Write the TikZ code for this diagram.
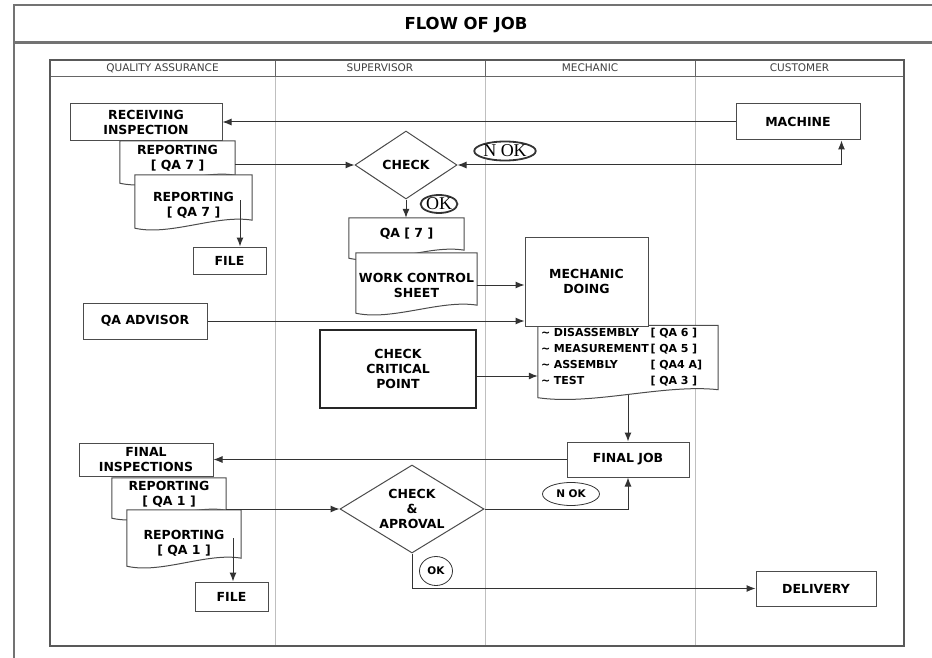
\documentclass[tikz,border=0pt]{standalone}
\usepackage{fontspec}
\setmainfont{DejaVu Sans}
\newfontfamily\okfont{Liberation Serif}
\usetikzlibrary{positioning,shapes.geometric,calc,backgrounds,arrows.meta}
\tikzset{block/.style={draw=black!70,line width=1pt,fill=white,font=\bfseries\fontsize{12.5}{15}\selectfont,align=center,inner sep=0pt},
         doc/.style={font=\bfseries\fontsize{12.5}{15}\selectfont,align=center,inner sep=0pt},
         check/.style={diamond,draw=black!70,line width=1pt,fill=white,font=\bfseries\fontsize{12.5}{15}\selectfont,align=center,inner sep=0pt},
         tag/.style={ellipse,draw=black!80,fill=white,inner sep=0pt},
         lane/.style={black!25,line width=0.7pt},
         head/.style={font=\fontsize{10.5}{12}\selectfont,text=black!75}
}
\tikzstyle{arrow} = [line width=1pt,draw=black!80,->,>={Latex[length=9pt,width=7pt]}]
\newcommand{\docshape}[2][0pt]{%
  \begin{scope}[on background layer]
  \filldraw[draw=black!70,line width=1pt,fill=white] ($(#2.north west)+(0,#1)$) -- ($(#2.north east)+(0,#1)$) -- (#2.south east)
    .. controls ($(#2.south)!0.4!(#2.south east)+(0,6pt)$) and ($(#2.south)!0.4!(#2.south west)+(0,-16pt)$) .. ($(#2.south west)+(0,-8pt)$) -- cycle;
  \end{scope}}

\begin{document}
\begin{tikzpicture}[x=1pt,y=-1pt]
\useasboundingbox (0,0) rectangle (932,658);

\begin{scope}[on background layer]
\draw[line width=1.6pt,black!55] (932,5) -- (14,5) -- (14,658);
\draw[line width=3pt,black!55] (14,43) -- (932,43);
\foreach \x in {275,485,695} {
  \draw[lane] (\x,76) -- (\x,646);
  \draw[black!60,line width=0.8pt] (\x,60) -- (\x,76);
}
\draw[line width=0.9pt,black!60] (50,76) -- (904,76);
\draw[line width=1.4pt,black!65] (50,60) rectangle (904,646);
\end{scope}

\node[font=\bfseries\fontsize{16.5}{18}\selectfont] (title) at (466,25) {FLOW OF JOB};
\node[head] (hqa) at (162.5,68) {QUALITY ASSURANCE};
\node[head] (hsup) at (380,68) {SUPERVISOR};
\node[head] (hmech) at (590,68) {MECHANIC};
\node[head] (hcust) at (799.5,68) {CUSTOMER};

\node[block,minimum width=152pt,minimum height=37pt] (recv) at (146,122) {RECEIVING\\INSPECTION};
\node[doc,minimum width=115pt,minimum height=34pt] (rep1) at (177.5,158) {REPORTING\\{[} QA 7 {]}};
\docshape{rep1}
\node[doc,minimum width=117pt,minimum height=30pt] (rep2) at (193.5,205) {REPORTING\\{[} QA 7 {]}};
\docshape[15pt]{rep2}
\node[block,minimum width=73pt,minimum height=27pt] (file1) at (229.5,260.5) {FILE};
\node[block,minimum width=124pt,minimum height=36pt] (machine) at (798,122) {MACHINE};
\node[check,aspect=1.5,minimum width=102pt,minimum height=68pt] (check) at (406,165) {CHECK};
\node[tag,line width=1.8pt,minimum width=56pt,minimum height=19pt,font=\okfont\fontsize{18}{18}\selectfont] (nok1) at (505,151) {N OK};
\node[tag,line width=1.8pt,minimum width=35pt,minimum height=18pt,font=\okfont\fontsize{18}{18}\selectfont] (ok1) at (439,204) {OK};
\node[doc,minimum width=115pt,minimum height=32pt] (qa7) at (406.5,234) {QA {[} 7 {]}};
\docshape{qa7}
\node[doc,minimum width=121pt,minimum height=40pt] (wcs) at (416.5,285) {WORK CONTROL\\SHEET};
\docshape[12pt]{wcs}
\node[block,minimum width=123pt,minimum height=89pt] (mech) at (586.5,281.5) {MECHANIC\\DOING};
\node[block,minimum width=124pt,minimum height=36pt] (qaadv) at (145,321) {QA ADVISOR};
\node[block,line width=2.2pt,draw=black!85,minimum width=156pt,minimum height=78pt] (ccp) at (398,369) {CHECK\\CRITICAL\\POINT};
\node[doc,inner xsep=3pt,text width=174pt,align=left,minimum height=63pt,font=\bfseries\fontsize{11}{16}\selectfont] (tasks) at (628,357.5)
  {\begin{tabular}{@{}l@{\,}l@{}}
   \textasciitilde{} DISASSEMBLY & {[} QA 6 {]}\\
   \textasciitilde{} MEASUREMENT & {[} QA 5 {]}\\
   \textasciitilde{} ASSEMBLY & {[} QA4 A{]}\\
   \textasciitilde{} TEST & {[} QA 3 {]}
   \end{tabular}};
\docshape{tasks}
\node[block,minimum width=122pt,minimum height=35pt] (finaljob) at (628,459.5) {FINAL JOB};
\node[block,minimum width=134pt,minimum height=33pt] (fininsp) at (146,459.5) {FINAL\\INSPECTIONS};
\node[doc,minimum width=114pt,minimum height=32pt] (rep3) at (169,494) {REPORTING\\{[} QA 1 {]}};
\docshape{rep3}
\node[doc,minimum width=114pt,minimum height=30pt] (rep4) at (184,543) {REPORTING\\{[} QA 1 {]}};
\docshape[18pt]{rep4}
\node[block,minimum width=73pt,minimum height=29pt] (file2) at (231.5,596.5) {FILE};
\node[check,aspect=1.6,minimum width=144pt,minimum height=88pt] (checkapr) at (412,509) {CHECK\\\&\\APROVAL};
\node[tag,line width=0.8pt,minimum width=57pt,minimum height=23pt,font=\bfseries\fontsize{10.5}{12}\selectfont] (nok2) at (571,494) {N OK};
\node[tag,line width=0.8pt,minimum width=33pt,minimum height=29pt,font=\bfseries\fontsize{10.5}{12}\selectfont] (ok2) at (436,571) {OK};
\node[block,minimum width=120pt,minimum height=35pt] (delivery) at (816,588.5) {DELIVERY};

\coordinate (rep2out) at (240,200);
\coordinate (rep4out) at (233,538);
\coordinate (mcorner) at ($(machine.south east)+(-19,0)$);
\coordinate (ccpout) at ($(ccp.east)+(0,-7pt)$);
\draw[arrow] (machine) -- (recv);
\draw[arrow] (check.west -| rep1.east) -- (check.west);
\draw[arrow] (rep2out) -- (rep2out |- file1.north);
\draw[arrow,<->] (check.east) -| (mcorner);
\draw[arrow] (check.south) -- (check.south |- qa7.north);
\draw[arrow] (wcs.east) -- (wcs.east -| mech.west);
\draw[arrow] (qaadv.east) -- (qaadv.east -| mech.west);
\draw[arrow] (ccpout) -- (ccpout -| tasks.west);
\draw[arrow] ($(tasks.south)+(0,-5pt)$) -- (finaljob.north);
\draw[arrow] (finaljob) -- (fininsp);
\draw[arrow] (checkapr.west -| rep3.east) -- (checkapr.west);
\draw[arrow] (rep4out) -- (rep4out |- file2.north);
\draw[arrow] (checkapr.east) -| (finaljob.south);
\draw[arrow] (checkapr.south) |- (delivery.west);

\end{tikzpicture}
\end{document}
